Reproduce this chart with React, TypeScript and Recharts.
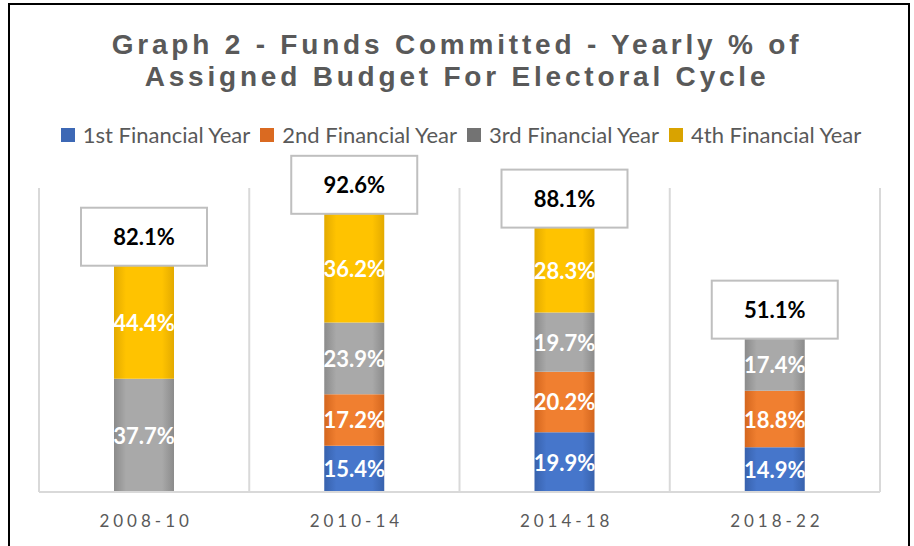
import React from 'react';
import { BarChart, Bar, XAxis, YAxis, CartesianGrid, Legend, LabelList } from 'recharts';

const categories = ['2008-10', '2010-14', '2014-18', '2018-22'];
const year1 = [null, 15.4, 19.9, 14.9];
const year2 = [null, 17.2, 20.2, 18.8];
const year3 = [37.7, 23.9, 19.7, 17.4];
const year4 = [37.7, 36.2, 28.3, null];
const year1Labels = ['', '15.4%', '19.9%', '14.9%'];
const year2Labels = ['', '17.2%', '20.2%', '18.8%'];
const year3Labels = ['37.7%', '23.9%', '19.7%', '17.4%'];
const year4Labels = ['44.4%', '36.2%', '28.3%', ''];
const totalLabels = ['82.1%', '92.6%', '88.1%', '51.1%'];
const seriesNames = ['1st Financial Year', '2nd Financial Year', '3rd Financial Year', '4th Financial Year'];

const data = categories.map((name, i) => ({
  name,
  y1: year1[i],
  y2: year2[i],
  y3: year3[i],
  y4: year4[i],
  l1: year1Labels[i],
  l2: year2Labels[i],
  l3: year3Labels[i],
  l4: year4Labels[i],
  total: totalLabels[i],
  top: 0.001,
}));

const grads = [
  { id: 'gBlue', edge: '#3862ad', mid: '#4676cb' },
  { id: 'gOrange', edge: '#d4661e', mid: '#f07f30' },
  { id: 'gGray', edge: '#8b8b8b', mid: '#a9a9a9' },
  { id: 'gYellow', edge: '#e3aa00', mid: '#ffc300' },
];
const legendColors = ['#3D68B5', '#DA6A21', '#737373', '#D9A300'];

const innerLabel = (props: any) => {
  const { x, y, width, height, value } = props;
  if (!value) return null;
  return (
    <text
      x={x + width / 2}
      y={y + height / 2}
      textAnchor="middle"
      dominantBaseline="central"
      fill="#ffffff"
      fontFamily="Lato"
      fontWeight="bold"
      fontSize={22}
    >
      {value}
    </text>
  );
};

const totalLabel = (props: any) => {
  const { x, y, width, value } = props;
  const bw = 126;
  const bh = 58;
  const cx = x + width / 2;
  return (
    <g>
      <rect x={cx - bw / 2} y={y - bh} width={bw} height={bh} fill="#ffffff" stroke="#BFBFBF" strokeWidth={2} />
      <text
        x={cx}
        y={y - bh / 2}
        textAnchor="middle"
        dominantBaseline="central"
        fill="#000000"
        fontFamily="Lato"
        fontWeight="bold"
        fontSize={22}
      >
        {value}
      </text>
    </g>
  );
};

const XTick = (props: any) => {
  const { x, y, payload } = props;
  return (
    <text
      x={x + 2}
      y={y + 20}
      textAnchor="middle"
      dominantBaseline="central"
      fill="#595959"
      fontFamily="Lato"
      fontSize={17}
      letterSpacing={4}
    >
      {payload.value}
    </text>
  );
};

const LegendContent = () => (
  <div
    style={{
      display: 'flex',
      justifyContent: 'center',
      alignItems: 'center',
      fontFamily: 'Lato',
      fontSize: 22,
      color: '#595959',
      whiteSpace: 'nowrap',
      lineHeight: '24px',
      paddingLeft: 8,
    }}
  >
    {seriesNames.map((n, i) => (
      <div key={n} style={{ display: 'flex', alignItems: 'center', marginLeft: i === 0 ? 0 : 10 }}>
        <div style={{ width: 14, height: 14, background: legendColors[i], marginRight: 8 }} />
        <span>{n}</span>
      </div>
    ))}
  </div>
);

export default function App() {
  return (
    <div style={{ position: 'absolute', left: 0, top: 0, width: 914, height: 546, overflow: 'hidden', background: '#fff' }}>
      <div
        style={{
          position: 'absolute',
          left: 8,
          top: 3,
          width: 902,
          height: 600,
          border: '2px solid #000',
          boxSizing: 'border-box',
        }}
      />
      <div
        style={{
          position: 'absolute',
          left: 0,
          top: 29,
          width: 914,
          textAlign: 'center',
          fontFamily: "'Liberation Sans', sans-serif",
          fontWeight: 'bold',
          fontSize: 28,
          lineHeight: '32px',
          letterSpacing: 3.8,
          color: '#595959',
        }}
      >
        <div>Graph 2 - Funds Committed - Yearly % of</div>
        <div>Assigned Budget For Electoral Cycle</div>
      </div>
      <div style={{ position: 'absolute', left: 0, top: 0 }}>
        <BarChart width={914} height={546} data={data} margin={{ top: 164, right: 34, bottom: 24, left: 39 }}>
          <defs>
            {grads.map((g) => (
              <linearGradient key={g.id} id={g.id} x1="0" y1="0" x2="1" y2="0">
                <stop offset="0%" stopColor={g.edge} />
                <stop offset="20%" stopColor={g.mid} />
                <stop offset="80%" stopColor={g.mid} />
                <stop offset="100%" stopColor={g.edge} />
              </linearGradient>
            ))}
          </defs>
          <CartesianGrid
            horizontal={false}
            stroke="#D9D9D9"
            strokeWidth={2}
            verticalCoordinatesGenerator={({ offset }: any) =>
              [0, 1, 2, 3, 4].map((i) => offset.left + (i * offset.width) / 4)
            }
          />
          <XAxis dataKey="name" tickLine={false} axisLine={{ stroke: '#D9D9D9', strokeWidth: 2 }} tick={<XTick />} interval={0} />
          <YAxis hide domain={[0, 101.3]} />
          <Legend verticalAlign="top" content={<LegendContent />} wrapperStyle={{ top: 123, left: 0, width: 914 }} />
          <Bar dataKey="y1" name={seriesNames[0]} stackId="s" fill="url(#gBlue)" barSize={60} isAnimationActive={false}>
            <LabelList dataKey="l1" content={innerLabel} />
          </Bar>
          <Bar dataKey="y2" name={seriesNames[1]} stackId="s" fill="url(#gOrange)" barSize={60} isAnimationActive={false}>
            <LabelList dataKey="l2" content={innerLabel} />
          </Bar>
          <Bar dataKey="y3" name={seriesNames[2]} stackId="s" fill="url(#gGray)" barSize={60} isAnimationActive={false}>
            <LabelList dataKey="l3" content={innerLabel} />
          </Bar>
          <Bar dataKey="y4" name={seriesNames[3]} stackId="s" fill="url(#gYellow)" barSize={60} isAnimationActive={false}>
            <LabelList dataKey="l4" content={innerLabel} />
          </Bar>
          <Bar dataKey="top" stackId="s" fill="none" barSize={60} legendType="none" isAnimationActive={false}>
            <LabelList dataKey="total" content={totalLabel} />
          </Bar>
        </BarChart>
      </div>
    </div>
  );
}
